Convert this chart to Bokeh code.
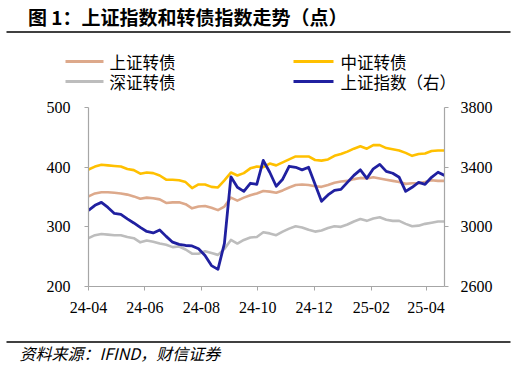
import datetime as dt
from bokeh.plotting import figure
from bokeh.layouts import column
from bokeh.models import (Range1d, LinearAxis, FixedTicker, DatetimeTickFormatter,
                          ColumnDataSource)
from bokeh.core.properties import value
from bokeh.embed import file_html
from bokeh.resources import INLINE

# ---------------- data ----------------
start = dt.datetime(2024, 4, 1)
dates = [start + dt.timedelta(days=7 * k) for k in range(56)]

zz_cb = [396, 401, 404, 403, 402, 401, 397, 395, 389, 391,
         390, 386, 379, 379, 378, 375, 365, 371, 371, 367,
         366, 378, 391, 386, 390, 398, 401, 400, 406, 403,
         408, 413, 418, 418, 418, 412, 411, 413, 419, 422,
         426, 431, 435, 431, 437, 437, 432, 430, 428, 424,
         419, 422, 423, 427, 428, 428]
sz_cb = [351, 356, 358, 358, 357, 356, 354, 351, 347, 349,
         348, 346, 340, 341, 341, 338, 331, 334, 335, 332,
         328, 334, 349, 344, 349, 353, 356, 360, 359, 357,
         361, 366, 370, 371, 370, 368, 367, 370, 374, 376,
         377, 380, 382, 381, 383, 381, 379, 377, 375, 372,
         373, 373, 375, 378, 377, 377]
shen_cb = [281, 286, 288, 287, 286, 286, 283, 281, 274, 277,
           275, 272, 270, 266, 267, 262, 255, 255, 259, 256,
           253, 263, 278, 272, 278, 282, 283, 291, 289, 286,
           292, 297, 301, 299, 295, 292, 294, 298, 301, 300,
           304, 309, 313, 310, 314, 316, 312, 310, 310, 305,
           301, 302, 305, 307, 309, 309]
sh_index = [3110, 3144, 3164, 3130, 3090, 3083, 3053, 3026, 2996, 2969,
            2959, 2979, 2936, 2897, 2882, 2875, 2872, 2853, 2808, 2740,
            2715, 2889, 3335, 3265, 3238, 3292, 3285, 3445, 3366, 3272,
            3319, 3406, 3399, 3382, 3399, 3285, 3171, 3214, 3245, 3251,
            3298, 3345, 3382, 3325, 3389, 3419, 3372, 3359, 3332, 3238,
            3265, 3298, 3285, 3332, 3366, 3345]

left_ticks = [200, 300, 400, 500]
right_ticks = [2600, 3000, 3400, 3800]
x_tick_dates = [dt.datetime(2024, 4, 1), dt.datetime(2024, 6, 1), dt.datetime(2024, 8, 1),
                dt.datetime(2024, 10, 1), dt.datetime(2024, 12, 1), dt.datetime(2025, 2, 1),
                dt.datetime(2025, 4, 1)]

series_names = ["上证转债", "中证转债", "深证转债", "上证指数（右）"]
colors = ["#DDA98B", "#FFC000", "#BDBDBD", "#2020A0"]

title_text = "图 1：上证指数和转债指数走势（点）"
source_text = "资料来源：IFIND，财信证券"

cjk = "Noto Sans CJK SC"
num_font = "Liberation Serif"
W = 516
TOP_H, MAIN_H, BOT_H = 100, 230, 44


def blank_fig(h):
    f = figure(frame_width=W, frame_height=h, output_backend="svg", toolbar_location=None,
               x_range=Range1d(0, W), y_range=Range1d(h, 0),
               x_axis_location=None, y_axis_location=None,
               min_border=0, min_border_left=0, min_border_right=0,
               min_border_top=0, min_border_bottom=0)
    f.frame_align = False
    f.outline_line_color = None
    f.background_fill_color = "white"
    f.border_fill_color = "white"
    f.xgrid.visible = False
    f.ygrid.visible = False
    return f


# ---------------- header: title, rule, legend ----------------
top = blank_fig(TOP_H)
top.text(x=[347], y=[16], text=[title_text], text_font=value(cjk), text_font_size="19px",
         text_font_style="bold", text_baseline="middle", text_align="right", text_color="black")
top.segment(x0=[6], y0=[31.5], x1=[510], y1=[31.5], line_color="black", line_width=1.6)

leg_x0 = [65, 293, 65, 293]
leg_x1 = [103, 333, 103, 333]
leg_tx = [109, 340, 109, 340]
leg_y = [61, 61, 81, 81]
top.segment(x0=leg_x0, y0=leg_y, x1=leg_x1, y1=leg_y, line_color=colors, line_width=2.8)
top.text(x=leg_tx, y=leg_y, text=series_names, text_font=value(cjk), text_font_size="16.5px",
         text_baseline="middle", text_align="left", text_color="black")

# ---------------- main chart ----------------
FL, FR = 88, 444
FT, FB = 107 - TOP_H, 286 - TOP_H

p = figure(width=W, height=MAIN_H, x_axis_type="datetime", output_backend="svg",
           toolbar_location=None,
           x_range=Range1d(dates[0], dates[-1]), y_range=Range1d(200, 500),
           min_border_left=FL, min_border_right=W - FR,
           min_border_top=FT, min_border_bottom=MAIN_H - FB)
p.frame_align = False
p.extra_y_ranges = {"right": Range1d(2600, 3800)}
p.background_fill_color = "white"
p.border_fill_color = "white"
p.outline_line_color = None
p.xgrid.visible = False
p.ygrid.visible = False

src = ColumnDataSource(dict(x=dates, a=sz_cb, b=zz_cb, c=shen_cb, d=sh_index))
p.line("x", "a", source=src, color=colors[0], line_width=2.6, line_join="round")
p.line("x", "b", source=src, color=colors[1], line_width=2.6, line_join="round")
p.line("x", "c", source=src, color=colors[2], line_width=2.6, line_join="round")
p.line("x", "d", source=src, color=colors[3], line_width=2.8, line_join="round",
       y_range_name="right")

axis_color = "#A6A6A6"


def style_axis(ax, size="16px"):
    ax.axis_line_color = axis_color
    ax.axis_line_width = 1.2
    ax.major_tick_line_color = axis_color
    ax.major_tick_in = 0
    ax.major_tick_out = 4
    ax.minor_tick_line_color = None
    ax.major_label_text_font = num_font
    ax.major_label_text_font_size = size
    ax.major_label_text_color = "black"


yl = p.yaxis[0]
yl.ticker = FixedTicker(ticks=left_ticks)
style_axis(yl)
yl.major_label_standoff = 14

yr = LinearAxis(y_range_name="right", ticker=FixedTicker(ticks=right_ticks))
style_axis(yr)
yr.major_label_standoff = 12
p.add_layout(yr, "right")

xa = p.xaxis[0]
xa.ticker = FixedTicker(ticks=[d.timestamp() * 1000 for d in x_tick_dates])
fmt = "%y-%m"
xa.formatter = DatetimeTickFormatter(milliseconds=fmt, seconds=fmt, minsec=fmt, minutes=fmt,
                                     hourmin=fmt, hours=fmt, days=fmt, months=fmt, years=fmt)
style_axis(xa)
xa.major_label_standoff = 11

# ---------------- footer: rule, source ----------------
bot = blank_fig(BOT_H)
off = TOP_H + MAIN_H
bot.segment(x0=[6], y0=[341.5 - off], x1=[510], y1=[341.5 - off], line_color="black",
            line_width=1.6)
bot.text(x=[19], y=[352 - off], text=[source_text], text_font=value(cjk),
         text_font_size="16px", text_font_style="italic", text_baseline="middle",
         text_align="left", text_color="black")

layout = column(top, p, bot, spacing=0)
open("out.html", "w").write(file_html(layout, INLINE))
